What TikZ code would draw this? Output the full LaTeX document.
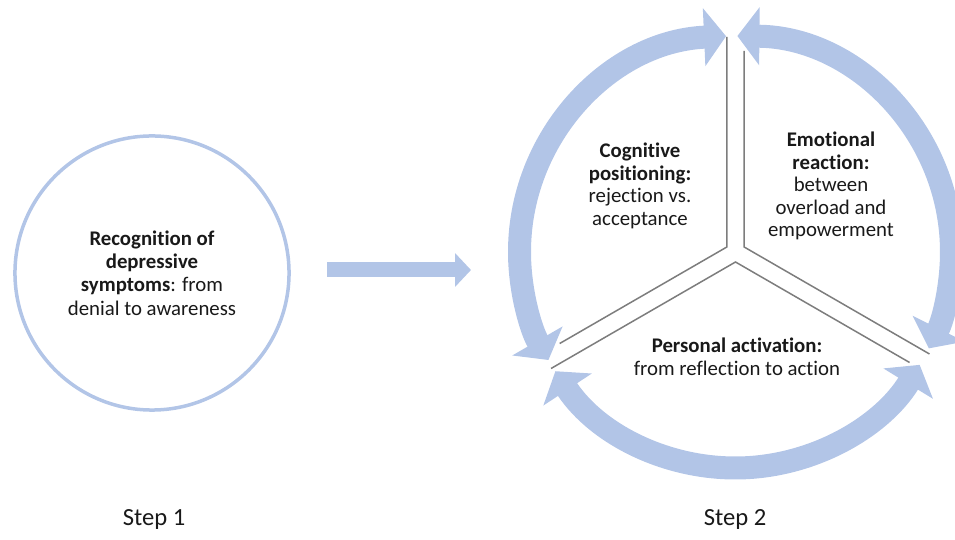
\documentclass[tikz,border=0pt]{standalone}
\usepackage{fontspec}
\setmainfont{Carlito}[Ligatures=NoCommon]
\usetikzlibrary{positioning}
\usetikzlibrary{calc}
\usetikzlibrary{arrows.meta}
\definecolor{ringblue}{RGB}{178,197,231}
\definecolor{divgray}{RGB}{125,125,125}
\definecolor{ink}{RGB}{25,25,25}
\tikzset{
stage/.style={
  circle,
  inner sep=0pt,
  minimum size=6.85cm,
  align=center,
  draw=ringblue,
  line width=0.0875cm,
  text=ink,
  font=\fontsize{14.8}{16.6}\selectfont
  },
lbl/.style={
  align=center,
  inner sep=0pt,
  text=ink,
  font=\fontsize{14.8}{16}\selectfont
  },
steplbl/.style={
  inner sep=0pt,
  text=ink,
  font=\fontsize{17.5}{19}\selectfont
  },
ringarrow/.style={
  draw=ringblue,
  line width=0.575cm,
  {Triangle[width=1.425cm,length=0.55cm]}-{Triangle[width=1.425cm,length=0.55cm]}
  },
blockarrow/.style={
  draw=ringblue,
  line width=0.375cm,
  -{Triangle[width=0.825cm,length=0.4cm]}
  },
divline/.style={
  draw=divgray,
  line width=0.0375cm
  }
}

\begin{document}
\begin{tikzpicture}[x=0.025cm,y=0.025cm]
    \useasboundingbox (0,0) rectangle (955,540);
    % step 1
    \node[stage] (step1) at (152,267) {\textbf{Recognition of}\\\textbf{depressive}\\\textbf{symptoms}: from\\denial to awareness};
    \coordinate (a0) at (327,270);
    \coordinate (a1) at (471,270);
    \draw[blockarrow] (a0) -- (a1);

    % step 2
    \coordinate (C) at (735.5,288);
    \coordinate (L) at ($(C)+(150:10)$);
    \coordinate (R) at ($(C)+(30:10)$);
    \coordinate (B) at ($(C)+(270:10)$);
    \draw[ringarrow] ($(C)+(92.5:216)$) arc[start angle=92.5, end angle=210, radius=216];
    \draw[ringarrow] ($(C)+(89.5:216)$) arc[start angle=89.5, end angle=-26.5, radius=216];
    \draw[ringarrow] ($(C)+(213.5:216)$) arc[start angle=213.5, end angle=328.5, radius=216];
    \draw[divline] (L) ++(90:210) -- (L) -- ++(210:193);
    \draw[divline] (R) ++(90:196) -- (R) -- ++(-30:214);
    \draw[divline] (B) ++(210:213) -- (B) -- ++(-30:201);

    \node[lbl] (cog) at (640,354) {\textbf{Cognitive}\\\textbf{positioning:}\\rejection vs.\\acceptance};
    \node[lbl] (emo) at (831,354) {\textbf{Emotional}\\\textbf{reaction:}\\between\\overload and\\empowerment};
    \node[lbl] (act) at (737,183) {\textbf{Personal activation:}\\from reflection to action};

    \node[steplbl] (s1) at (154,21) {Step 1};
    \node[steplbl] (s2) at (735,21) {Step 2};
\end{tikzpicture}
\end{document}
